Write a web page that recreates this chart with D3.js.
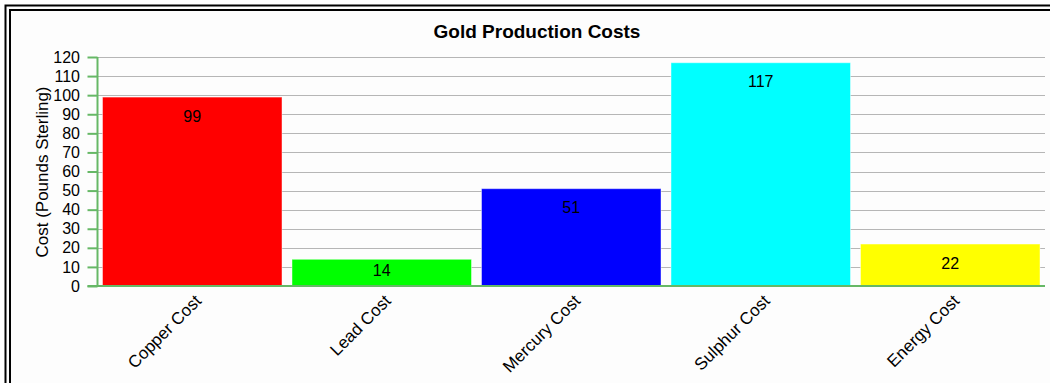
<!DOCTYPE html>
<html>
<head>
<meta charset="utf-8">
<script src="https://cdn.jsdelivr.net/npm/d3@7"></script>
<style>
  html, body { margin: 0; padding: 0; background: #fff; }
  svg { display: block; }
  text { font-family: "Liberation Sans", Arial, sans-serif; fill: #000; }
</style>
</head>
<body>
<svg id="chart" width="1050" height="383"></svg>
<script>
// Cost items and their values (pounds sterling)
const categories = ["Copper Cost", "Lead Cost", "Mercury Cost", "Sulphur Cost", "Energy Cost"];
const costs = [99, 14, 51, 117, 22];
const barColors = ["#ff0000", "#00ff00", "#0000ff", "#00ffff", "#ffff00"];
const yTicks = [0, 10, 20, 30, 40, 50, 60, 70, 80, 90, 100, 110, 120];
const chartTitle = "Gold Production Costs";
const yAxisTitle = "Cost (Pounds Sterling)";

const svg = d3.select("#chart");
const W = 1050, H = 383;
const plot = { left: 97.5, right: 1045, top: 57, bottom: 286 };
const axisColor = "#66b866";
const fontFamily = "Liberation Sans, Arial, sans-serif";

// Double frame round the chart
svg.append("rect").attr("x", 5.5).attr("y", 5.5).attr("width", W + 10).attr("height", H + 10)
  .attr("fill", "#fdfdfd").attr("stroke", "#000").attr("stroke-width", 2);
svg.append("rect").attr("x", 10).attr("y", 10).attr("width", W + 10).attr("height", H + 10)
  .attr("fill", "none").attr("stroke", "#000").attr("stroke-width", 2);

const x = d3.scaleBand().domain(categories).range([plot.left, plot.right]).paddingInner(0).paddingOuter(0);
const y = d3.scaleLinear().domain([0, 120]).range([plot.bottom, plot.top]);
const barInset = 5;

// Title
svg.append("text").attr("x", 537).attr("y", 38).attr("text-anchor", "middle")
  .style("font-size", "19px").style("font-weight", "bold").text(chartTitle);

// Dotted grid lines
svg.append("g").selectAll("line").data(yTicks.filter(t => t > 0)).join("line")
  .attr("x1", plot.left).attr("x2", plot.right)
  .attr("y1", d => Math.round(y(d)) + 0.5).attr("y2", d => Math.round(y(d)) + 0.5)
  .attr("stroke", "#6e6e6e").attr("stroke-width", 1).attr("stroke-dasharray", "1,1");

// Bars
svg.append("g").selectAll("rect").data(costs).join("rect")
  .attr("x", (d, i) => x(categories[i]) + barInset)
  .attr("width", x.bandwidth() - 2 * barInset)
  .attr("y", d => y(d))
  .attr("height", d => y(0) - y(d))
  .attr("fill", (d, i) => barColors[i])
  .attr("stroke", "rgba(255,255,255,0.45)").attr("stroke-width", 1);

// Value labels inside the bars
svg.append("g").selectAll("text").data(costs).join("text")
  .attr("x", (d, i) => x(categories[i]) + x.bandwidth() / 2)
  .attr("y", d => {
    const top = y(d), h = y(0) - y(d);
    return h < 40 ? top + h / 2 - 2 : top + 19;
  })
  .attr("dy", "0.35em")
  .attr("text-anchor", "middle").style("font-size", "16px")
  .text(d => d);

// Y axis
const yAxis = d3.axisLeft(y).tickValues(yTicks).tickSize(10).tickPadding(7.5).tickFormat(d3.format("d"));
const gy = svg.append("g").attr("transform", `translate(${plot.left},0)`).call(yAxis);
gy.select(".domain").remove();
gy.selectAll(".tick line").attr("stroke", axisColor).attr("stroke-width", 2);
gy.selectAll(".tick text").style("font-size", "16px").style("font-family", fontFamily).attr("fill", "#000");
svg.append("line").attr("x1", plot.left).attr("x2", plot.left).attr("y1", plot.top).attr("y2", plot.bottom)
  .attr("stroke", axisColor).attr("stroke-width", 2);

// X axis baseline
svg.append("line").attr("x1", plot.left - 10).attr("x2", plot.right).attr("y1", plot.bottom).attr("y2", plot.bottom)
  .attr("stroke", axisColor).attr("stroke-width", 2);

// Rotated category labels
const xAxis = d3.axisBottom(x).tickSize(0).tickPadding(0);
const gx = svg.append("g").attr("transform", `translate(0,${plot.bottom})`).call(xAxis);
gx.select(".domain").remove();
gx.selectAll(".tick text")
  .style("font-size", "17px").style("font-family", fontFamily).attr("fill", "#000")
  .attr("text-anchor", "end")
  .attr("dy", 0)
  .attr("transform", "translate(10,16) rotate(-45)");

// Y axis title
svg.append("text").attr("transform", `translate(48,172) rotate(-90)`).attr("text-anchor", "middle")
  .style("font-size", "17px").text(yAxisTitle);
</script>
</body>
</html>
